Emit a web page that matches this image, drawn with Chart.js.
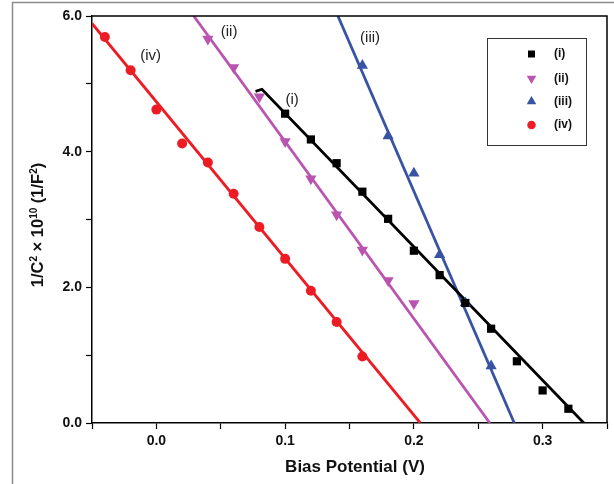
<!DOCTYPE html>
<html>
<head>
<meta charset="utf-8">
<script src="https://cdn.jsdelivr.net/npm/chart.js@4.4.0/dist/chart.umd.min.js"></script>
<style>
  html, body { margin: 0; padding: 0; background: #fff; }
  canvas { display: block; }
</style>
</head>
<body>
<canvas id="chart" width="614" height="484"></canvas>
<script>
// Mott-Schottky data: bias potential (V) vs 1/C^2 x 10^10 (1/F^2)
const seriesNames = ['(i)', '(ii)', '(iii)', '(iv)'];

const biasI   = [0.10, 0.12, 0.14, 0.16, 0.18, 0.20, 0.22, 0.24, 0.26, 0.28, 0.30, 0.32];
const invCapI = [4.56, 4.18, 3.83, 3.41, 3.01, 2.54, 2.18, 1.77, 1.39, 0.91, 0.48, 0.21];

const biasII   = [0.04, 0.06, 0.08, 0.10, 0.12, 0.14, 0.16, 0.18, 0.20];
const invCapII = [5.66, 5.24, 4.81, 4.15, 3.60, 3.07, 2.55, 2.10, 1.76];

const biasIII   = [0.16, 0.18, 0.20, 0.22, 0.24, 0.26];
const invCapIII = [5.27, 4.23, 3.68, 2.48, 1.77, 0.84];

const biasIV   = [-0.04, -0.02, 0.00, 0.02, 0.04, 0.06, 0.08, 0.10, 0.12, 0.14, 0.16];
const invCapIV = [5.69, 5.20, 4.62, 4.12, 3.84, 3.38, 2.89, 2.42, 1.95, 1.49, 0.98];

// linear fit lines
const fitBiasI   = [0.077, 0.082, 0.332]; const fitCapI   = [4.89, 4.92, 0];
const fitBiasII  = [0.029, 0.259];        const fitCapII  = [6.0, 0];
const fitBiasIII = [0.141, 0.278];        const fitCapIII = [6.0, 0];
const fitBiasIV  = [-0.05, 0.205];        const fitCapIV  = [5.89, 0];

// curve labels inside the plot (data coordinates)
const curveLabels = ['(iv)', '(ii)', '(i)', '(iii)'];
const curveLabelX = [-0.0045, 0.0565, 0.1055, 0.166];
const curveLabelY = [5.41, 5.76, 4.77, 5.68];

const xAxisTitle = 'Bias Potential (V)';
const yTitleParts = ['1/C', '2', ' \u00d7 10', '10', ' (1/F', '2', ')'];

const colors = ['#000000', '#b955b0', '#3953a4', '#ed1c24'];
const styles = [
  { pointStyle: 'rect', radius: 5.8, rotation: 0 },
  { pointStyle: 'triangle', radius: 6.5, rotation: 180 },
  { pointStyle: 'triangle', radius: 6.5, rotation: 0 },
  { pointStyle: 'circle', radius: 5, rotation: 0 }
];

const pts = (xs, ys) => xs.map((v, i) => ({ x: v, y: ys[i] }));
const pointSets = [pts(biasI, invCapI), pts(biasII, invCapII), pts(biasIII, invCapIII), pts(biasIV, invCapIV)];
const fitSets = [pts(fitBiasI, fitCapI), pts(fitBiasII, fitCapII), pts(fitBiasIII, fitCapIII), pts(fitBiasIV, fitCapIV)];

const datasets = [];
pointSets.forEach((d, i) => {
  datasets.push({
    label: seriesNames[i],
    data: d,
    showLine: false,
    backgroundColor: colors[i],
    borderColor: colors[i],
    borderWidth: 0,
    pointStyle: styles[i].pointStyle,
    pointRadius: styles[i].radius,
    pointRotation: styles[i].rotation,
    order: 0
  });
});
fitSets.forEach((d, i) => {
  datasets.push({
    label: seriesNames[i] + ' fit',
    data: d,
    showLine: true,
    borderColor: colors[i],
    borderWidth: 2.8,
    pointRadius: 0,
    order: 1
  });
});

const FONT = '"Liberation Sans", Arial, sans-serif';

const overlay = {
  id: 'overlay',
  afterDraw(chart) {
    const { ctx, chartArea: a, scales: { x, y } } = chart;
    ctx.save();

    // outer figure frame
    ctx.strokeStyle = '#8c8c8c';
    ctx.lineWidth = 1.5;
    ctx.beginPath();
    ctx.moveTo(12.5, 484);
    ctx.lineTo(12.5, 2.5);
    ctx.lineTo(614, 2.5);
    ctx.stroke();

    // top and right plot frame
    ctx.strokeStyle = '#000';
    ctx.lineWidth = 1.5;
    ctx.beginPath();
    ctx.moveTo(a.left, a.top);
    ctx.lineTo(a.right, a.top);
    ctx.lineTo(a.right, a.bottom);
    ctx.stroke();

    // curve labels
    ctx.fillStyle = '#222';
    ctx.font = '15px ' + FONT;
    ctx.textAlign = 'center';
    ctx.textBaseline = 'middle';
    curveLabels.forEach((t, i) => {
      ctx.fillText(t, x.getPixelForValue(curveLabelX[i]), y.getPixelForValue(curveLabelY[i]));
    });

    // legend
    ctx.strokeStyle = '#333';
    ctx.lineWidth = 1;
    ctx.strokeRect(487.5, 38.5, 99, 107);
    const legY = [54, 78.5, 101.5, 125];
    seriesNames.forEach((t, i) => {
      ctx.fillStyle = colors[i];
      ctx.strokeStyle = colors[i];
      Chart.helpers.drawPoint(ctx, {
        pointStyle: styles[i].pointStyle,
        radius: styles[i].radius * 0.85,
        rotation: styles[i].rotation,
        borderWidth: 0
      }, 531.5, legY[i]);
      ctx.fillStyle = '#111';
      ctx.font = 'bold 12px ' + FONT;
      ctx.textAlign = 'left';
      ctx.textBaseline = 'middle';
      ctx.fillText(t, 554, legY[i]);
    });

    // x axis title
    ctx.fillStyle = '#111';
    ctx.font = 'bold 17px ' + FONT;
    ctx.textAlign = 'center';
    ctx.textBaseline = 'middle';
    ctx.fillText(xAxisTitle, 355, 467);

    // y axis title with superscripts
    ctx.translate(43, 225);
    ctx.rotate(-Math.PI / 2);
    ctx.textAlign = 'left';
    ctx.textBaseline = 'alphabetic';
    const big = 'bold 16.5px ' + FONT, sup = 'bold 10px ' + FONT;
    let total = 0;
    yTitleParts.forEach((p, i) => {
      ctx.font = i % 2 ? sup : big;
      total += ctx.measureText(p).width;
    });
    let cx = -total / 2;
    yTitleParts.forEach((p, i) => {
      ctx.font = i % 2 ? sup : big;
      ctx.fillText(p, cx, i % 2 ? -6.5 : 0);
      cx += ctx.measureText(p).width;
    });
    ctx.restore();
  }
};

new Chart(document.getElementById('chart').getContext('2d'), {
  type: 'scatter',
  data: { datasets: datasets },
  options: {
    responsive: false,
    animation: false,
    layout: { padding: { left: 12, top: 16, right: 7, bottom: 0 } },
    plugins: { legend: { display: false }, tooltip: { enabled: false } },
    scales: {
      x: {
        type: 'linear',
        min: -0.05,
        max: 0.35,
        afterFit: s => { s.height = 61; },
        border: { color: '#000', width: 1.5 },
        grid: { drawOnChartArea: false, tickLength: 6, color: '#000', tickWidth: 1.2 },
        ticks: {
          stepSize: 0.05,
          autoSkip: false,
          maxRotation: 0,
          padding: 4,
          color: '#111',
          font: { family: FONT, size: 14, weight: 'bold' },
          callback: v => {
            const r = Math.round(v * 100);
            return r % 10 === 0 ? (r / 100).toFixed(1) : '';
          }
        }
      },
      y: {
        type: 'linear',
        min: 0,
        max: 6,
        afterFit: s => { s.width = 80; },
        border: { color: '#000', width: 1.5 },
        grid: { drawOnChartArea: false, tickLength: 6, color: '#000', tickWidth: 1.2 },
        ticks: {
          stepSize: 1,
          autoSkip: false,
          padding: 4,
          color: '#111',
          font: { family: FONT, size: 14, weight: 'bold' },
          callback: v => (Math.round(v) % 2 === 0 ? v.toFixed(1) : '')
        }
      }
    }
  },
  plugins: [overlay]
});
</script>
</body>
</html>
